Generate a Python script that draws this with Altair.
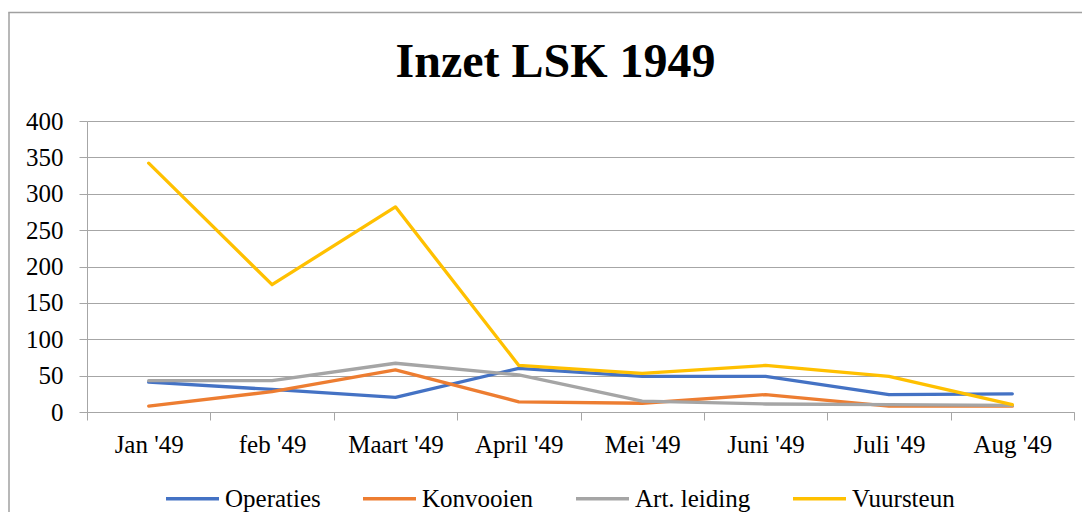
import json
import altair as alt
import pandas as pd

months = ["Jan '49", "feb '49", "Maart '49", "April '49", "Mei '49", "Juni '49", "Juli '49", "Aug '49"]
series_names = ["Operaties", "Konvooien", "Art. leiding", "Vuursteun"]
operaties = [41, 31, 20, 60, 49, 49, 24, 25]
konvooien = [8, 28, 58, 14, 12, 24, 8, 8]
art_leiding = [43, 43, 67, 51, 15, 11, 10, 9]
vuursteun = [342, 175, 282, 64, 53, 64, 49, 10]
colors = ["#4472C4", "#ED7D31", "#A5A5A5", "#FFC000"]
y_ticks = [0, 50, 100, 150, 200, 250, 300, 350, 400]

rows = []
for name, vals in zip(series_names, [operaties, konvooien, art_leiding, vuursteun]):
    for i, v in enumerate(vals):
        rows.append({"idx": i, "month": months[i], "series": name, "value": v})
df = pd.DataFrame(rows)

W, H = 987, 291
FONT = "Liberation Serif"
GRID = "#a6a6a6"

x_vals = [i / 2 - 0.5 for i in range(17)]
label_expr = f"datum.value % 1 === 0 ? {json.dumps(months)}[datum.value] : ''"

lines = alt.Chart(df).mark_line(strokeWidth=3.3, strokeCap="round", strokeJoin="round").encode(
    x=alt.X(
        "idx:Q",
        scale=alt.Scale(domain=[-0.5, 7.5], nice=False, zero=False),
        axis=alt.Axis(
            title=None,
            values=x_vals,
            labelExpr=label_expr,
            grid=False,
            domainColor=GRID,
            tickColor=GRID,
            tickSize=8,
            tickOpacity={"condition": {"test": "datum.value % 1 !== 0", "value": 1}, "value": 0},
            labelPadding=12,
            labelFont=FONT,
            labelFontSize=25,
            labelColor="black",
            labelOverlap=False,
            labelFlush=False,
            labelBound=False,
        ),
    ),
    y=alt.Y(
        "value:Q",
        scale=alt.Scale(domain=[0, 400], nice=False),
        axis=alt.Axis(
            title=None,
            values=y_ticks,
            grid=True,
            gridColor=GRID,
            domainColor=GRID,
            tickColor=GRID,
            tickSize=8,
            labelPadding=16,
            labelFont=FONT,
            labelFontSize=25,
            labelColor="black",
        ),
    ),
    color=alt.Color(
        "series:N",
        scale=alt.Scale(domain=series_names, range=colors),
        sort=series_names,
        legend=alt.Legend(
            title=None,
            orient="none",
            direction="horizontal",
            legendX=77,
            legendY=349,
            symbolType="stroke",
            symbolSize=2809,
            symbolStrokeWidth=3.3,
            labelFont=FONT,
            labelFontSize=25,
            labelColor="black",
            labelOffset=4,
            columnPadding=35,
            padding=0,
        ),
    ),
    detail="series:N",
)

border_left = alt.Chart(alt.Data(values=[{}])).mark_rule(
    stroke="#a0a0a0", strokeWidth=1.5
).encode(
    x=alt.value(-78),
    y=alt.value(-108.5),
    y2=alt.value(H + 200),
)
border_top = alt.Chart(alt.Data(values=[{}])).mark_rule(
    stroke="#a0a0a0", strokeWidth=1.5
).encode(
    x=alt.value(-78.75),
    x2=alt.value(W + 8),
    y=alt.value(-108.5),
)

chart = alt.layer(border_left, border_top, lines).properties(
    width=W,
    height=H,
    autosize=alt.AutoSizeParams(type="none"),
    padding={"left": 79, "top": 113, "right": 8, "bottom": 100},
    title=alt.TitleParams(
        text="Inzet LSK 1949",
        font=FONT,
        fontSize=48,
        fontWeight="bold",
        color="black",
        anchor="middle",
        frame="group",
        dx=-25,
        offset=-75,
    ),
).configure_view(strokeWidth=0)

chart.save("out.html", embed_options={"renderer": "svg", "actions": False})
